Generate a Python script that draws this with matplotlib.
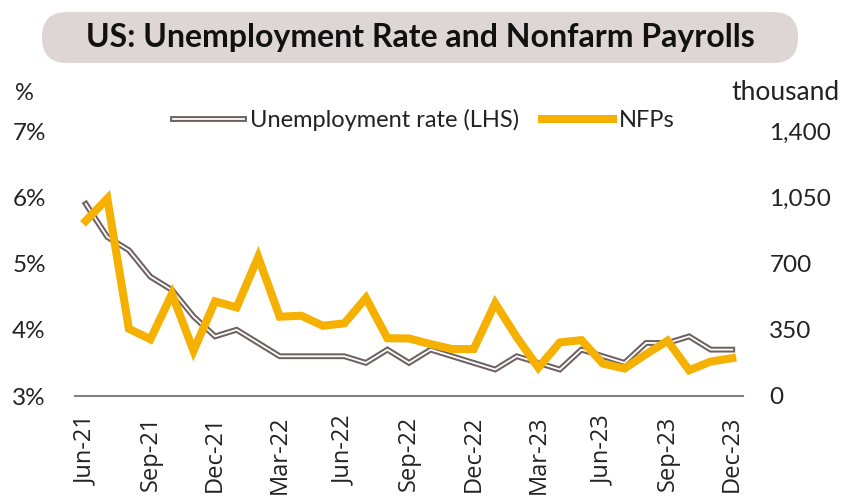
import matplotlib
matplotlib.use("Agg")
import matplotlib.pyplot as plt
import matplotlib.patheffects as pe
from matplotlib.patches import FancyBboxPatch
from matplotlib.transforms import IdentityTransform
import pandas as pd

months = pd.date_range("2021-06-01", "2023-12-01", freq="MS")
month_labels = [d.strftime("%b-%y") for d in months]

unemployment = [5.9, 5.4, 5.2, 4.8, 4.6, 4.2, 3.9, 4.0, 3.8, 3.6, 3.6, 3.6, 3.6,
                3.5, 3.7, 3.5, 3.7, 3.6, 3.5, 3.4, 3.6, 3.5, 3.4, 3.7, 3.6, 3.5,
                3.8, 3.8, 3.9, 3.7, 3.7]
nfp = [925, 1043, 355, 300, 539, 239, 500, 468, 734, 419, 424, 371, 384,
       518, 305, 304, 274, 248, 248, 490, 311, 150, 283, 295, 171, 145,
       221, 292, 136, 182, 200]

left_ticks = [3, 4, 5, 6, 7]
left_tick_labels = ["3%", "4%", "5%", "6%", "7%"]
right_ticks = [0, 350, 700, 1050, 1400]
right_tick_labels = ["0", "350", "700", "1,050", "1,400"]

ORANGE = "#F5B000"
GRAYLINE = "#6d6161"
TXT = "#222222"
FONT = "Lato"
W, H = 843, 498

fig = plt.figure(figsize=(W/100, H/100), dpi=100)
ax = fig.add_axes([75/W, 1-396/H, (743-75)/W, (396-131)/H])
ax2 = ax.twinx()

x = list(range(len(months)))
l1, = ax.plot(x, unemployment, color="white", lw=1.3, solid_joinstyle="miter",
              label="Unemployment rate (LHS)",
              path_effects=[pe.Stroke(linewidth=4.2, foreground=GRAYLINE), pe.Normal()])
l2, = ax2.plot(x, nfp, color=ORANGE, lw=5.8, solid_joinstyle="miter", label="NFPs")

ax.set_xlim(-0.5, len(months) - 0.5)
ax.set_ylim(3, 7)
ax2.set_ylim(0, 1400)

ax.set_yticks(left_ticks)
ax.set_yticklabels(left_tick_labels, fontfamily=FONT, fontsize=17.5, color=TXT)
ax2.set_yticks(right_ticks)
ax2.set_yticklabels(right_tick_labels, fontfamily=FONT, fontsize=17.5, color=TXT)

ax.set_xticks(x[::3])
ax.set_xticklabels(month_labels[::3], rotation=90, fontfamily="Open Sans",
                   fontsize=17, color=TXT, va="top")

ax.tick_params(axis="y", length=0, pad=21)
ax2.tick_params(axis="y", length=0, pad=19)
ax.tick_params(axis="x", length=0, pad=14)

for a in (ax, ax2):
    for s in ("top", "left", "right"):
        a.spines[s].set_visible(False)
    a.spines["bottom"].set_color("#808080")
    a.spines["bottom"].set_linewidth(1.5)
ax2.spines["bottom"].set_visible(False)

# Title box (pixel coordinates, origin bottom-left)
box = FancyBboxPatch((42, H-63), 798-42, 63-12,
                     boxstyle="round,pad=0,rounding_size=25",
                     transform=IdentityTransform(), facecolor="#ddd6d4",
                     edgecolor="none")
fig.patches.append(box)
fig.text(420/W, 1-37/H, "US: Unemployment Rate and Nonfarm Payrolls",
         ha="center", va="center", fontsize=23, fontweight="bold",
         fontfamily=FONT, color="#111111")

fig.text(24/W, 1-93/H, "%", ha="center", va="center", fontsize=17,
         fontfamily=FONT, color=TXT)
fig.text(785/W, 1-93/H, "thousand", ha="center", va="center", fontsize=19,
         fontfamily=FONT, color=TXT)

leg = fig.legend([l1, l2], [l1.get_label(), l2.get_label()], loc="center",
                 bbox_to_anchor=(424/W, 1-120/H), ncol=2, frameon=False,
                 handlelength=3.0, handletextpad=0.25, columnspacing=1.0,
                 prop={"family": FONT, "size": 17})
for t in leg.get_texts():
    t.set_color(TXT)

fig.savefig("out.png", dpi=100)
